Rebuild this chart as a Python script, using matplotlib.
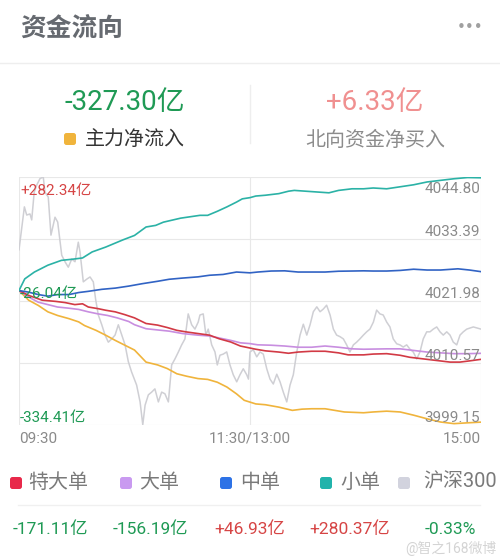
import numpy as np
import matplotlib
matplotlib.use('Agg')
import matplotlib.pyplot as plt
from matplotlib.patches import FancyBboxPatch
from matplotlib.transforms import blended_transform_factory

plt.rcParams['font.family'] = ['Roboto', 'Noto Sans CJK SC', 'DejaVu Sans']

# --- data (minutes after 09:30, trading time; flows in 亿) ---
t_small = [0, 3, 8, 15, 22, 28, 33, 38, 45, 54, 60, 66, 71, 75, 84, 94, 98, 103, 108, 113, 116, 120,
           123, 128, 135, 140, 143, 149, 155, 161, 166, 173, 179, 184, 191, 198, 205, 212, 219, 226, 233, 240]
v_small = [0, 29, 46, 63, 75, 78, 81, 96, 108, 126, 137, 158, 162, 170, 180, 187, 187, 197, 208, 220, 228, 231,
           235, 237, 241, 247, 249, 247, 245, 243, 249, 253, 253, 255, 253, 258, 263, 270, 274, 278, 281, 280.37]

t_mid = [0, 5, 10, 15, 20, 26, 31, 36, 43, 50, 57, 64, 72, 78, 85, 93, 99, 106, 113, 120,
         124, 131, 138, 145, 152, 159, 166, 173, 179, 184, 191, 198, 205, 212, 219, 228, 234, 240]
v_mid = [0, -4, -10, -14, -10, -10, -5, -2, 3, 6, 11, 17, 23, 28, 31, 34, 38, 40, 46, 44,
         46, 48.5, 49, 46, 46, 46, 48, 48.5, 49, 48.5, 48.5, 50, 53, 51, 51, 54, 51, 46.93]

t_xl = [0, 5, 12, 19, 24, 29, 33, 36, 41, 45, 50, 55, 60, 66, 72, 77, 82, 87, 93, 99,
        104, 110, 115, 120, 123, 128, 135, 140, 145, 152, 159, 166, 171, 179, 184, 191, 198, 203, 210, 217,
        224, 229, 234, 240]
v_xl = [0, -12, -24, -27, -30, -35, -33, -41, -45, -49, -53, -60, -68, -82, -86, -92, -99, -103, -107, -111,
        -120, -128, -138, -143, -146, -150, -153, -156, -153, -151, -151, -155, -160, -160, -158, -157, -161, -166, -170, -174,
        -178, -178, -175, -171.11]

t_lg = [0, 5, 10, 15, 20, 26, 31, 36, 41, 46, 51, 57, 60, 66, 72, 78, 85, 93, 99, 104,
        110, 115, 120, 124, 131, 138, 145, 152, 159, 166, 173, 179, 191, 198, 205, 212, 219, 226, 233, 240]
v_lg = [0, -16, -29, -35, -41, -44, -47, -53, -58, -62, -68, -77, -85, -95, -98, -101, -107, -111, -113, -118,
        -124, -130, -132, -135, -136, -138, -141, -141, -138, -141, -145, -146, -145, -145, -149, -153, -155, -157, -157, -156.19]

t_main = [0, 5, 10, 15, 20, 26, 31, 34, 40, 45, 50, 55, 60, 66, 72, 77, 82, 87, 93, 98,
          103, 108, 113, 117, 123, 128, 135, 142, 147, 152, 159, 164, 169, 179, 184, 191, 198, 205, 212, 219,
          226, 233, 240]
v_main = [0, -24, -37, -53, -62, -70, -78, -87, -99, -111, -124, -136, -148, -178, -185, -194, -207, -213, -219, -221,
          -228, -240, -257, -273, -282, -284, -290, -298, -295, -294, -294, -298, -302, -304, -302, -300, -302, -310, -319, -327,
          -331, -329, -327.30]

t_hs = [0, 1.4, 2.8, 4.0, 5.7, 6.6, 7.9, 9.2, 10.9, 12.6, 13.5, 15.2, 16.6, 18.7, 20.1, 22.2, 23.9, 25.6, 27.4, 29.1,
        30.8, 31.7, 33.4, 35.2, 36.9, 38.6, 39.8, 41.2, 43.0, 44.7, 46.4, 48.2, 49.9, 51.6, 53.4, 55.1, 56.8, 58.5, 61.1, 62.9,
        64.3, 65.5, 67.2, 68.9, 70.6, 72.4, 74.1, 75.8, 77.6, 79.3, 81.0, 82.8, 84.5, 86.2, 87.9, 89.7, 91.4, 93.1, 94.0, 95.7,
        97.1, 98.3, 100.1, 101.8, 103.0, 104.4, 106.1, 107.9, 109.6, 111.3, 113.1, 114.8, 116.5, 118.3, 119.2, 120.0, 121.7, 123.5, 125.2, 126.9,
        128.7, 130.4, 132.1, 133.9, 135.6, 137.3, 139.1, 140.8, 142.5, 144.3, 146.0, 147.7, 149.5, 151.2, 152.9, 154.7, 156.4, 158.1, 159.8, 161.6,
        163.3, 165.0, 166.8, 168.5, 170.2, 171.9, 173.7, 175.4, 177.1, 178.9, 180.6, 182.3, 184.1, 185.8, 187.5, 189.2, 191.0, 192.7, 194.4, 196.2,
        197.9, 199.6, 201.4, 203.1, 204.8, 206.6, 208.3, 210.0, 211.8, 213.5, 215.2, 217.0, 218.7, 220.4, 222.2, 223.9, 225.6, 227.4, 229.1, 230.8,
        232.6, 236.0, 240.0]
v_hs = [4031.4, 4035.3, 4039.3, 4037.8, 4038.0, 4036.9, 4042.0, 4043.3, 4044.5, 4044.8, 4042.0, 4041.1, 4034.1, 4037.4, 4036.5, 4030.4, 4029.2, 4028.2, 4029.7, 4029.2,
        4032.8, 4031.0, 4025.5, 4026.0, 4026.4, 4025.5, 4022.3, 4019.4, 4017.6, 4015.7, 4014.4, 4015.0, 4015.7, 4017.6, 4015.7, 4013.9, 4010.8, 4008.9, 4006.5, 4003.4,
        3999.2, 4002.8, 4004.7, 4005.2, 4005.8, 4003.4, 4005.2, 4004.9, 4003.4, 4010.2, 4011.3, 4012.6, 4013.9, 4015.0, 4019.6, 4017.6, 4016.8, 4018.1, 4019.4, 4019.6,
        4015.7, 4016.8, 4013.9, 4012.6, 4010.2, 4012.0, 4012.2, 4012.6, 4010.2, 4008.4, 4007.1, 4008.4, 4009.5, 4008.4, 4007.6, 4012.6, 4013.0, 4011.7, 4012.6, 4012.2,
        4009.5, 4007.6, 4006.7, 4008.5, 4007.1, 4005.2, 4003.4, 4006.5, 4008.4, 4012.6, 4015.7, 4017.7, 4015.7, 4017.6, 4020.0, 4020.9, 4020.0, 4020.5, 4021.2, 4019.4,
        4016.8, 4015.7, 4015.4, 4015.0, 4013.9, 4012.6, 4013.9, 4014.4, 4015.0, 4015.7, 4016.3, 4016.8, 4018.1, 4020.3, 4019.6, 4019.4, 4018.1, 4017.2, 4015.0, 4014.1,
        4013.9, 4013.5, 4013.9, 4013.1, 4012.6, 4011.3, 4012.6, 4015.0, 4016.3, 4016.3, 4016.8, 4017.2, 4016.3, 4015.7, 4016.3, 4015.7, 4014.4, 4013.9, 4015.7, 4016.3,
        4016.8, 4017.2, 4016.8]

flow_ticks = ['-334.41亿', '', '-26.04亿', '', '+282.34亿']
hs_ticks = ['3999.15', '4010.57', '4021.98', '4033.39', '4044.80']
time_labels = ['09:30', '11:30/13:00', '15:00']

legend_names = ['特大单', '大单', '中单', '小单', '沪深300']
legend_values = ['-171.11亿', '-156.19亿', '+46.93亿', '+280.37亿', '-0.33%']

c_red, c_purple, c_blue, c_teal, c_gray, c_orange = '#d23a45', '#c88ee0', '#3163c4', '#2bb2a6', '#cfcfd4', '#f0b43c'
green_txt, red_txt = '#1f9a55', '#d64545'

fig = plt.figure(figsize=(5, 5.6), dpi=100)

# overlay in pixel coordinates for the card layout
ui = fig.add_axes([0, 0, 1, 1])
ui.set_xlim(0, 500)
ui.set_ylim(560, 0)
ui.axis('off')

ui.text(20, 30, '资金流向', fontsize=18.5, fontweight='bold', color='#666a70', va='center', ha='left')
ui.text(470, 28, '•••', fontsize=11, color='#a0a0a0', va='center', ha='center', family='DejaVu Sans')
ui.plot([0, 500], [63, 63], color='#eeeeee', lw=1)

ui.text(125, 102, '-327.30亿', fontsize=20, color=green_txt, ha='center', va='center')
ui.add_patch(FancyBboxPatch((64, 133), 12, 12, boxstyle='round,pad=0,rounding_size=2.5',
                            fc=c_orange, ec='none'))
ui.text(85, 139, '主力净流入', fontsize=14.4, color='#333333', ha='left', va='center')
ui.plot([250, 250], [85, 143], color='#eeeeee', lw=1)
ui.text(375, 102, '+6.33亿', fontsize=20, color='#f09090', ha='center', va='center')
ui.text(375, 140, '北向资金净买入', fontsize=14.4, color='#8c8c8c', ha='center', va='center')

# chart
ax = fig.add_axes([19 / 500, (560 - 425) / 560, 462 / 500, 248 / 560])
ax.patch.set_alpha(0)
hs_lo, hs_hi = 3999.15, 4044.80
ax.set_ylim(hs_lo, hs_hi)
ax.set_xlim(0, 240)
ax.plot(t_hs, v_hs, color=c_gray, lw=1.1)
ax.set_yticks(np.linspace(hs_lo, hs_hi, 5))
ax.set_yticklabels([])
ax.set_xticks([0, 120, 240])
ax.set_xticklabels(time_labels, fontsize=11, color='#8a8a8a')
for lab, ha in zip(ax.get_xticklabels(), ['left', 'center', 'right']):
    lab.set_ha(ha)
ax.tick_params(length=0, pad=5)
ax.grid(True, color='#e8e8e8', lw=0.8)
for s in ax.spines.values():
    s.set_visible(False)

ax2 = ax.twinx()
fl_lo, fl_hi = -334.41, 282.34
ax2.set_ylim(fl_lo, fl_hi)
ax2.set_xlim(0, 240)
ax2.set_yticks([])
for s in ax2.spines.values():
    s.set_visible(False)
ax2.plot(t_main, v_main, color=c_orange, lw=1.2)
ax2.plot(t_lg, v_lg, color=c_purple, lw=1.2)
ax2.plot(t_xl, v_xl, color=c_red, lw=1.2)
ax2.plot(t_mid, v_mid, color=c_blue, lw=1.2)
ax2.plot(t_small, v_small, color=c_teal, lw=1.2)

# left flow labels
tr2 = blended_transform_factory(ax2.transAxes, ax2.transData)
for val, lab in zip(np.linspace(fl_lo, fl_hi, 5), flow_ticks):
    if not lab:
        continue
    col = red_txt if lab.startswith('+') else green_txt
    off = (0.7, -13) if val == fl_hi else (0.7, 2)
    ax2.annotate(lab, xy=(0, val), xycoords=tr2, xytext=off, textcoords='offset points',
                 ha='left', va='baseline', fontsize=11, color=col)

# right index labels
tr1 = blended_transform_factory(ax.transAxes, ax.transData)
for val, lab in zip(np.linspace(hs_lo, hs_hi, 5), hs_ticks):
    off = (-0.7, -11.5) if val == hs_hi else (-0.7, 2)
    ax2.annotate(lab, xy=(1, val), xycoords=tr1, xytext=off, textcoords='offset points',
                 ha='right', va='baseline', fontsize=11, color='#8a8a8a')

# legend row
sq_x = [10, 120, 220, 320, 398]
lab_x = [28, 139, 240, 340, 423]
sq_col = ['#e8294a', '#c99af0', '#2d72e6', '#21b3ab', '#d2d3de']
for x, lx, name, col in zip(sq_x, lab_x, legend_names, sq_col):
    ui.add_patch(FancyBboxPatch((x, 477), 12, 12, boxstyle='round,pad=0,rounding_size=2.5',
                                fc=col, ec='none'))
    ui.text(lx, 482, name, fontsize=14.4, color='#7a7a7a', ha='left', va='center')
ui.plot([18, 480], [505, 505], color='#f0f0f0', lw=1)

val_x = [50, 150, 250, 350, 450]
for x, txt in zip(val_x, legend_values):
    col = red_txt if txt.startswith('+') else green_txt
    ui.text(x, 529, txt, fontsize=12.5, color=col, ha='center', va='center')

ui.text(497, 548, '@智之168微博', fontsize=10, color='#d4d4d4', ha='right', va='center')

fig.savefig('out.png', dpi=100, facecolor='white')
